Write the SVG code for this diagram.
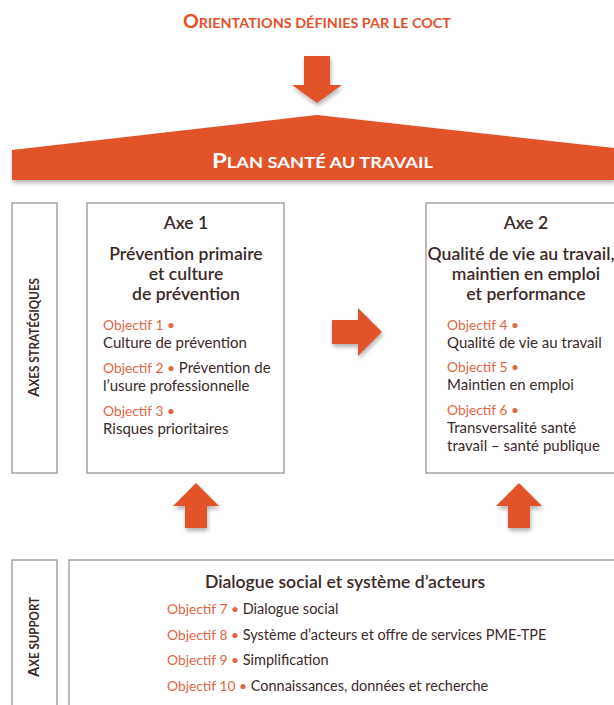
<svg xmlns="http://www.w3.org/2000/svg" width="614" height="705" viewBox="0 0 614 705">
  <style>
    .box { fill: #ffffff; stroke: #8c8c8c; stroke-width: 1.2; }
    .accent { fill: #e2522a; }
    .sc { font-family: Lato, "Open Sans", sans-serif; font-weight: bold; }
    .head { font-family: Lato, "Open Sans", sans-serif; font-size: 17.6px; font-weight: 600; fill: #3b2a28; text-anchor: middle; }
    .body { font-family: Lato, "Open Sans", sans-serif; font-size: 15px; fill: #3b2a28; }
    .sup { font-size: 14.5px; }
    .obj { fill: #df6645; font-size: 13.8px; }
  </style>
  <defs>
    <filter id="drop" x="-10%" y="-10%" width="120%" height="140%">
      <feGaussianBlur in="SourceAlpha" stdDeviation="2"/>
      <feOffset dx="1" dy="3" result="b"/>
      <feComponentTransfer><feFuncA type="linear" slope="0.3"/></feComponentTransfer>
      <feMerge><feMergeNode/><feMergeNode in="SourceGraphic"/></feMerge>
    </filter>
  </defs>
  <rect width="614" height="705" fill="#ffffff"/>

  <!-- header -->
  <g id="orientations">
    <text class="sc" x="183" y="28" fill="#e2522a" textLength="268" lengthAdjust="spacingAndGlyphs"><tspan font-size="19">O</tspan><tspan font-size="14">RIENTATIONS DÉFINIES PAR LE COCT</tspan></text>
  </g>

  <g id="plan">
    <path class="accent" filter="url(#drop)" d="M12 150 L317 115 L614 148 L614 180 L12 180 Z"/>
    <text class="sc" x="212" y="168" fill="#ffffff" textLength="221" lengthAdjust="spacingAndGlyphs"><tspan font-size="21">P</tspan><tspan font-size="16">LAN SANTÉ AU TRAVAIL</tspan></text>
  </g>

  <!-- strategic axes -->
  <g id="label-axes">
    <rect class="box" x="12" y="203" width="45" height="270"/>
    <text class="sc" transform="translate(39 397) rotate(-90)" fill="#3b2a28" textLength="119" lengthAdjust="spacingAndGlyphs"><tspan font-size="16">A</tspan><tspan font-size="12.5">XES STRATÉGIQUES</tspan></text>
  </g>

  <g id="axe1">
    <rect class="box" x="87" y="203" width="197" height="270"/>
    <text class="head" x="186" y="229">Axe 1</text>
    <text class="head" x="186" y="260">Prévention primaire</text>
    <text class="head" x="186" y="280">et culture</text>
    <text class="head" x="186" y="300">de prévention</text>
    <text class="body" x="103" y="330"><tspan class="obj">Objectif 1 •</tspan></text>
    <text class="body" x="103" y="348">Culture de prévention</text>
    <text class="body" x="103" y="373"><tspan class="obj">Objectif 2 •</tspan> Prévention de</text>
    <text class="body" x="103" y="391">l’usure professionnelle</text>
    <text class="body" x="103" y="416"><tspan class="obj">Objectif 3 •</tspan></text>
    <text class="body" x="103" y="434">Risques prioritaires</text>
  </g>

  <g id="axe2">
    <rect class="box" x="426" y="203" width="200" height="270"/>
    <text class="head" x="526" y="229">Axe 2</text>
    <text class="head" x="521" y="260">Qualité de vie au travail,</text>
    <text class="head" x="526" y="280">maintien en emploi</text>
    <text class="head" x="526" y="300">et performance</text>
    <text class="body" x="447" y="330"><tspan class="obj">Objectif 4 •</tspan></text>
    <text class="body" x="447" y="348">Qualité de vie au travail</text>
    <text class="body" x="447" y="372"><tspan class="obj">Objectif 5 •</tspan></text>
    <text class="body" x="447" y="390">Maintien en emploi</text>
    <text class="body" x="447" y="415"><tspan class="obj">Objectif 6 •</tspan></text>
    <text class="body" x="447" y="433">Transversalité santé</text>
    <text class="body" x="447" y="451">travail – santé publique</text>
  </g>

  <!-- support axis -->
  <g id="label-support">
    <rect class="box" x="12" y="560" width="45" height="160"/>
    <text class="sc" transform="translate(39 677) rotate(-90)" fill="#3b2a28" textLength="80" lengthAdjust="spacingAndGlyphs"><tspan font-size="16">A</tspan><tspan font-size="12.5">XE SUPPORT</tspan></text>
  </g>

  <g id="support">
    <rect class="box" x="69" y="560" width="560" height="160"/>
    <text class="head" x="345" y="588">Dialogue social et système d’acteurs</text>
    <text class="body sup" x="167" y="614"><tspan class="obj">Objectif 7 •</tspan> Dialogue social</text>
    <text class="body sup" x="167" y="640"><tspan class="obj">Objectif 8 •</tspan> Système d’acteurs et offre de services PME-TPE</text>
    <text class="body sup" x="167" y="665"><tspan class="obj">Objectif 9 •</tspan> Simplification</text>
    <text class="body sup" x="167" y="691"><tspan class="obj">Objectif 10 •</tspan> Connaissances, données et recherche</text>
  </g>

  <!-- connectors: block arrows -->
  <g id="connectors" class="accent" filter="url(#drop)">
    <path d="M304 56 L330 56 L330 85 L342 85 L317 103 L292 85 L304 85 Z"/>
    <path d="M332 320 L358 320 L358 308 L382 332 L358 356 L358 344 L332 344 Z"/>
    <path d="M196 483 L219 506 L207 506 L207 528 L185 528 L185 506 L173 506 Z"/>
    <path d="M519 483 L542 506 L530 506 L530 528 L508 528 L508 506 L496 506 Z"/>
  </g>
</svg>
